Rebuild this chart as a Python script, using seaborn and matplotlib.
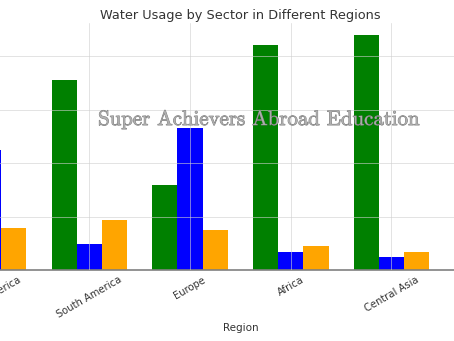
import matplotlib
matplotlib.use("Agg")
import matplotlib.pyplot as plt
import matplotlib.patheffects as pe
import seaborn as sns
import pandas as pd

# Share of water withdrawals (%) by sector
regions = ["North America", "South America", "Europe", "Africa", "Central Asia"]
sectors = ["Agriculture", "Industrial", "Domestic"]
agriculture = [39, 71, 32, 84, 88]
industrial = [45, 10, 53, 7, 5]
domestic = [16, 19, 15, 9, 7]
sector_colors = ["green", "blue", "orange"]

df = pd.DataFrame({
    "Region": regions * 3,
    "Sector": [s for s in sectors for _ in regions],
    "Usage": agriculture + industrial + domestic,
})

sns.set_theme(style="whitegrid")
plt.rcParams["font.family"] = ["DejaVu Sans"]

fig = plt.figure(figsize=(4.54, 3.41), dpi=100)
ax = fig.add_axes([-0.136, 0.207, 1.331, 0.726])

sns.barplot(data=df, x="Region", y="Usage", hue="Sector", order=regions,
            hue_order=sectors, palette=sector_colors, width=0.75,
            saturation=1, linewidth=0, ax=ax, legend=False)

ax.set_xlim(-0.5, 5.5)
ax.set_ylim(0, 92.4)
ax.set_axisbelow(False)
ax.grid(True, color="#cfcfcf", linewidth=0.7, linestyle="-", alpha=0.6)
for s in ["left", "top", "right"]:
    ax.spines[s].set_visible(False)
ax.spines["bottom"].set_color("#808080")
ax.spines["bottom"].set_linewidth(1.2)

ax.set_title("Water Usage by Sector in Different Regions", fontsize=9.3,
             color="#333333", pad=3)
ax.set_xlabel("Region", fontsize=7.5, color="#333333", labelpad=2)
ax.set_ylabel("Usage (%)", fontsize=7.5)
ax.tick_params(axis="x", labelsize=7.2, labelcolor="#333333", rotation=30, pad=-3)
ax.tick_params(axis="y", labelsize=7.2)

fig.text(0.571, 0.648, "Super Achievers Abroad Education", fontsize=15,
         family="cmr10", color="#b0b0b0", alpha=0.85, ha="center", va="center",
         path_effects=[pe.withStroke(linewidth=0.6, foreground="#6a6a6a")])

fig.savefig("out.png", dpi=100)
